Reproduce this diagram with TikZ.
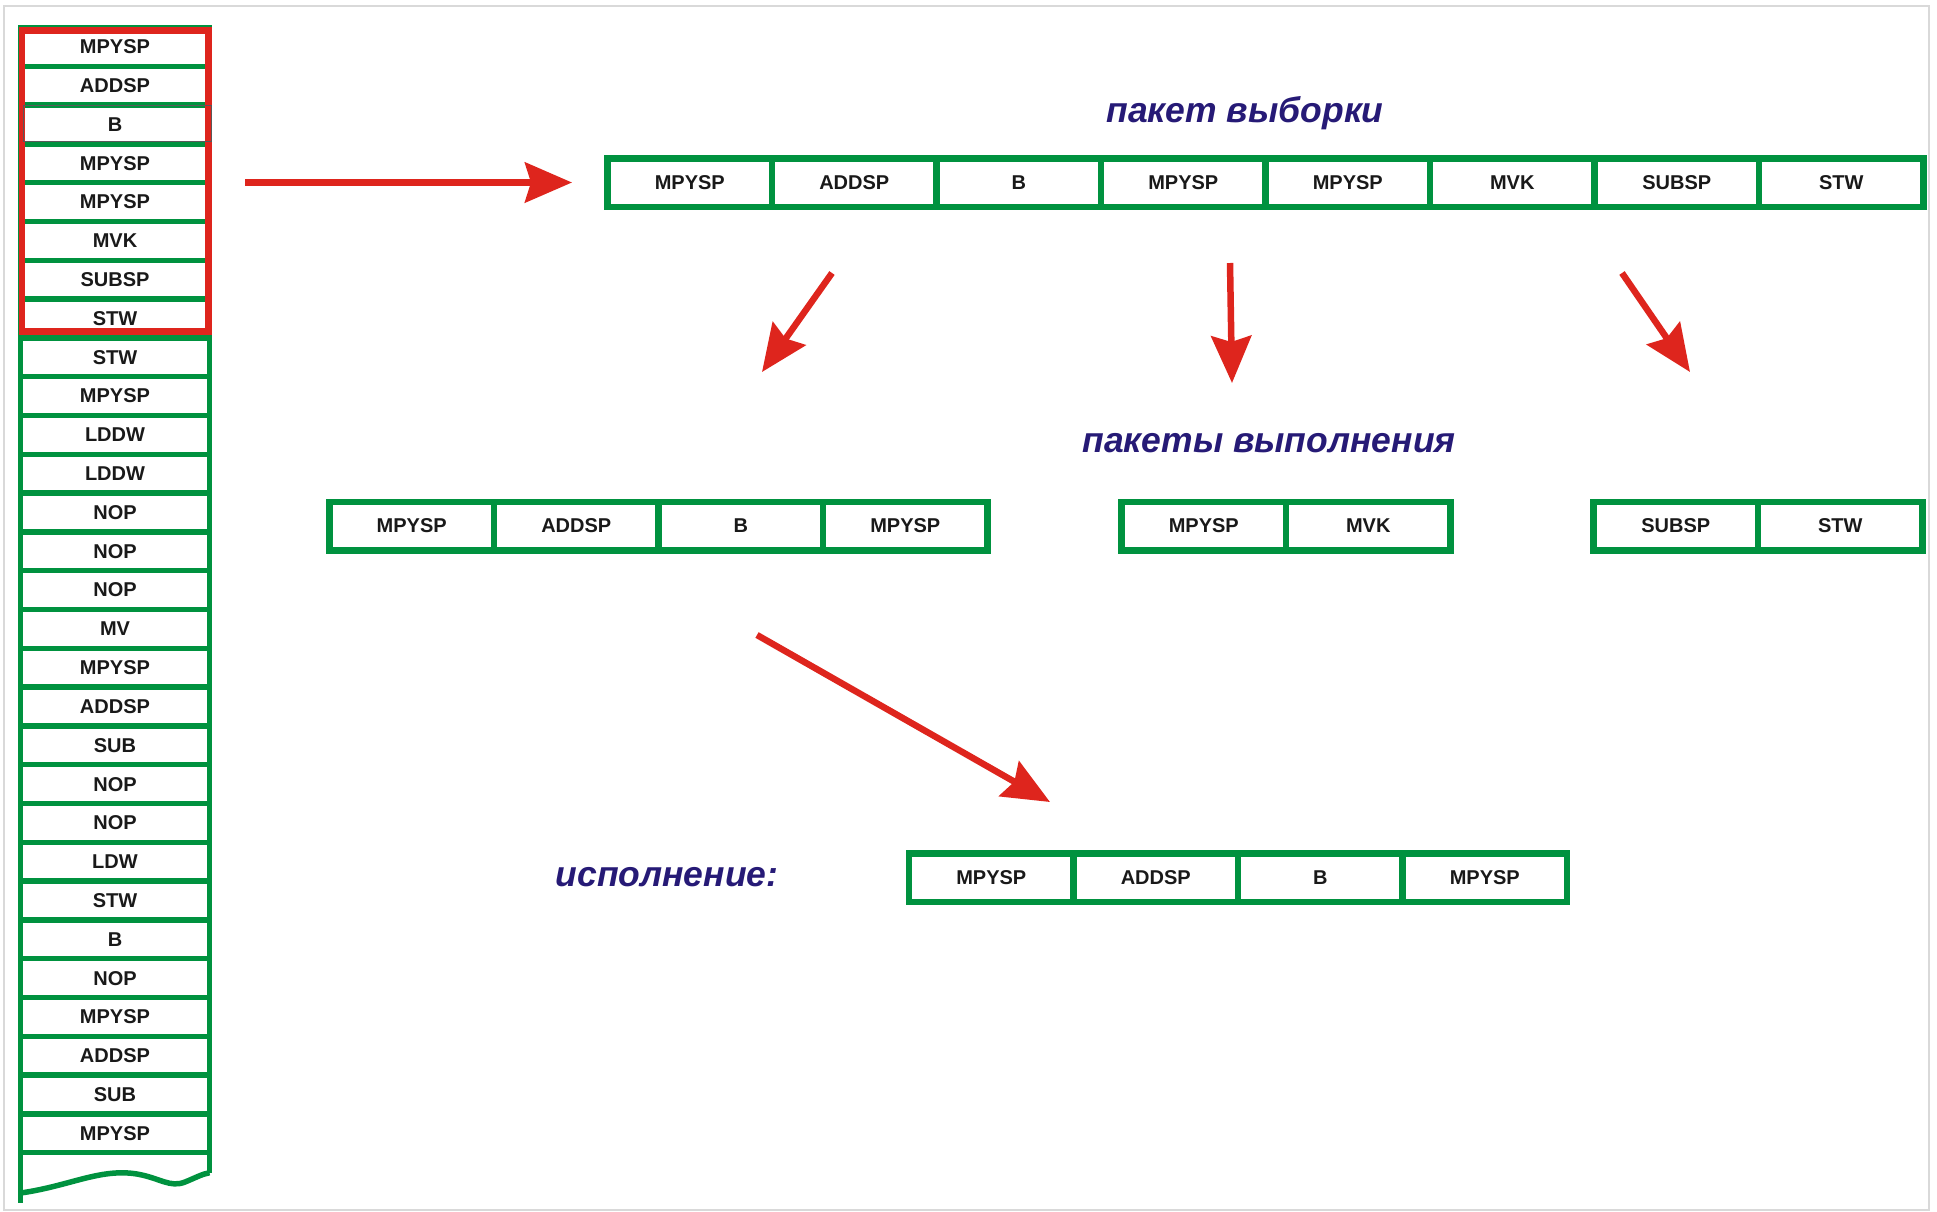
\documentclass[tikz,border=0pt]{standalone}
\usepackage{fontspec}
\setmainfont{Liberation Sans}
\usetikzlibrary{positioning,arrows.meta,calc}
\definecolor{cellgreen}{RGB}{0,146,63}
\definecolor{arrowred}{RGB}{222,37,29}
\definecolor{labelblue}{RGB}{38,26,118}
\tikzset{
  cell/.style={draw=cellgreen, line width=6.5pt, minimum width=164.5pt, minimum height=48.5pt,
    inner sep=0pt, outer sep=0pt, font=\fontsize{20}{24}\selectfont\bfseries, text=black!90},
  colcell/.style={cell, line width=5.5pt, minimum width=189pt, minimum height=38.8pt},
  flow/.style={draw=arrowred, line width=6.5pt, -{Stealth[length=47pt,width=40pt,inset=6pt]}},
  caption/.style={text=labelblue, font=\fontsize{35.5}{40}\selectfont\bfseries\itshape,
    anchor=base, inner sep=0pt}
}
\begin{document}
\begin{tikzpicture}[x=1pt,y=-1pt]
        \useasboundingbox (0,0) rectangle (1937,1211);
        % frame
        \draw[black!15, line width=1.5pt] (4,6) rectangle (1929,1210);
        % program memory column
        \foreach \txt [count=\i] in {MPYSP,ADDSP,B,MPYSP,MPYSP,MVK,SUBSP,STW,STW,MPYSP,LDDW,LDDW,NOP,NOP,NOP,MV,MPYSP,ADDSP,SUB,NOP,NOP,LDW,STW,B,NOP,MPYSP,ADDSP,SUB,MPYSP}
            \node[colcell] (c\i) at (115,{27.5+38.8*(\i-0.5)}) {\txt};
        % torn end of the column
        \draw[cellgreen, line width=5.5pt] (c29.south west) -- ++(0,50) coordinate (wl);
        \draw[cellgreen, line width=5.5pt] (c29.south east) -- ++(0,20) coordinate (wr);
        \draw[cellgreen, line width=5.5pt] (20.5,1193) .. controls (70,1186) and (100,1168) .. (137,1174)
            .. controls (160,1178) and (170,1188) .. (185,1182) .. controls (195,1178) and (202,1174) .. (wr);
        % fetched block
        \draw[arrowred, line width=6.5pt] ($(c1.north west)+(1.5,3)$) rectangle ($(c8.south east)+(-1,-6.5)$);
        \draw[black!65, line width=0.8pt] ($(c3.north west)+(3,0)$) rectangle ($(c3.south east)+(1.5,-3)$);
        % fetch packet
        \node[caption] (fetchlabel) at (1245,122) {пакет выборки};
        \node[cell] (f1) at (689.75,182.5) {MPYSP};
        \node[cell, right=0pt of f1] (f2) {ADDSP};
        \node[cell, right=0pt of f2] (f3) {B};
        \node[cell, right=0pt of f3] (f4) {MPYSP};
        \node[cell, right=0pt of f4] (f5) {MPYSP};
        \node[cell, right=0pt of f5] (f6) {MVK};
        \node[cell, right=0pt of f6] (f7) {SUBSP};
        \node[cell, right=0pt of f7] (f8) {STW};
        % execute packets
        \node[caption] (execlabel) at (1269,452) {пакеты выполнения};
        \node[cell] (p1) at (411.75,526) {MPYSP};
        \node[cell, right=0pt of p1] (p2) {ADDSP};
        \node[cell, right=0pt of p2] (p3) {B};
        \node[cell, right=0pt of p3] (p4) {MPYSP};
        \node[cell] (q1) at (1203.75,526) {MPYSP};
        \node[cell, right=0pt of q1] (q2) {MVK};
        \node[cell] (r1) at (1675.75,526) {SUBSP};
        \node[cell, right=0pt of r1] (r2) {STW};
        % execution
        \node[caption] (runlabel) at (667,886.5) {исполнение:};
        \node[cell] (e1) at (991.25,877.5) {MPYSP};
        \node[cell, right=0pt of e1] (e2) {ADDSP};
        \node[cell, right=0pt of e2] (e3) {B};
        \node[cell, right=0pt of e3] (e4) {MPYSP};
        % arrows
        \coordinate (a1s) at ($(f1.west -| c1.east)+(35.5,0)$);
        \coordinate (a1e) at ($(f1.west)+(-35.5,0)$);
        \coordinate (a2s) at (832,273);
        \coordinate (a2e) at (762,372);
        \coordinate (a3s) at (1230,263);
        \coordinate (a3e) at (1232,383);
        \coordinate (a4s) at (1622,273);
        \coordinate (a4e) at (1690,372);
        \coordinate (a5s) at (757,635);
        \coordinate (a5e) at (1050,802);
        \draw[flow] (a1s) -- (a1e);
        \draw[flow] (a2s) -- (a2e);
        \draw[flow] (a3s) -- (a3e);
        \draw[flow] (a4s) -- (a4e);
        \draw[flow] (a5s) -- (a5e);
\end{tikzpicture}
\end{document}
